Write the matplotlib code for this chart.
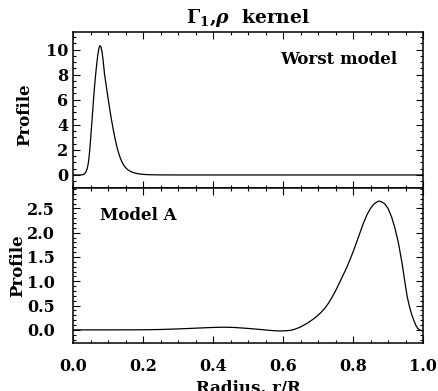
import matplotlib
matplotlib.use("Agg")
import matplotlib.pyplot as plt
from matplotlib.ticker import MultipleLocator

# ---- data ----
top_x = [0.000, 0.020, 0.025, 0.030, 0.034, 0.037, 0.040, 0.042, 0.044, 0.046,
         0.048, 0.050, 0.053, 0.056, 0.059, 0.062, 0.065, 0.068, 0.071, 0.074,
         0.077, 0.080, 0.083, 0.086, 0.090, 0.095, 0.100, 0.105, 0.110, 0.115,
         0.120, 0.125, 0.130, 0.135, 0.140, 0.145, 0.150, 0.155, 0.160, 0.170,
         0.180, 0.190, 0.200, 0.210, 0.225, 0.250, 0.300, 1.000]
top_y = [0.00, 0.00, 0.01, 0.04, 0.12, 0.25, 0.45, 0.68, 1.00, 1.45,
         2.05, 2.75, 3.85, 5.00, 6.15, 7.20, 8.10, 8.90, 9.60, 10.10,
         10.32, 10.20, 9.80, 9.15, 8.06, 7.10, 6.15, 5.25, 4.40, 3.62,
         2.92, 2.30, 1.78, 1.36, 1.03, 0.78, 0.59, 0.45, 0.35, 0.21,
         0.13, 0.08, 0.05, 0.03, 0.015, 0.005, 0.00, 0.00]

bot_x = [0.00, 0.10, 0.20, 0.25, 0.30, 0.35, 0.40, 0.43, 0.46, 0.50,
         0.54, 0.57, 0.59, 0.61, 0.62, 0.63, 0.64, 0.65, 0.66, 0.67,
         0.68, 0.69, 0.70, 0.71, 0.72, 0.73, 0.74, 0.75, 0.76, 0.77,
         0.78, 0.79, 0.80, 0.81, 0.82, 0.83, 0.84, 0.85, 0.86, 0.87,
         0.875, 0.88, 0.89, 0.90, 0.91, 0.92, 0.93, 0.94, 0.95, 0.955,
         0.96, 0.965, 0.97, 0.975, 0.98, 0.985, 0.99, 0.995, 1.00]
bot_y = [0.000, 0.000, 0.002, 0.008, 0.020, 0.035, 0.050, 0.055, 0.050, 0.030,
         0.005, -0.015, -0.022, -0.018, -0.010, 0.005, 0.030, 0.060, 0.100, 0.140,
         0.190, 0.240, 0.300, 0.370, 0.450, 0.550, 0.670, 0.800, 0.950, 1.100,
         1.250, 1.420, 1.600, 1.800, 2.000, 2.200, 2.370, 2.500, 2.590, 2.640,
         2.650, 2.640, 2.600, 2.500, 2.330, 2.090, 1.780, 1.380, 0.900, 0.680,
         0.520, 0.380, 0.270, 0.170, 0.090, 0.030, 0.000, -0.015, -0.020]

x_ticks = [0.0, 0.2, 0.4, 0.6, 0.8, 1.0]
x_ticklabels = ["0.0", "0.2", "0.4", "0.6", "0.8", "1.0"]
top_yticks = [0, 2, 4, 6, 8, 10]
bot_yticks = [0.0, 0.5, 1.0, 1.5, 2.0, 2.5]

plt.rcParams['font.family'] = ['DejaVu Serif']
plt.rcParams['font.weight'] = 'bold'
plt.rcParams['mathtext.fontset'] = 'dejavuserif'

W, H = 438, 391
fig = plt.figure(figsize=(W / 100, H / 100), dpi=100)

left, right = 73 / W, 423 / W
y_top, y_mid, y_bot = 1 - 32 / H, 1 - 187.5 / H, 1 - 343 / H
ax1 = fig.add_axes([left, y_mid, right - left, y_top - y_mid])
ax2 = fig.add_axes([left, y_bot, right - left, y_mid - y_bot])

fs = 12
tfs = 11.5
for ax in (ax1, ax2):
    ax.set_xlim(0, 1)
    ax.xaxis.set_major_locator(MultipleLocator(0.2))
    ax.xaxis.set_minor_locator(MultipleLocator(0.05))
    ax.tick_params(which='both', direction='in', top=True, right=True,
                   labelsize=tfs, width=0.8)
    ax.tick_params(which='major', length=5)
    ax.tick_params(which='minor', length=2.5)
    for s in ax.spines.values():
        s.set_linewidth(1.1)

ax1.plot(top_x, top_y, color='black', lw=0.9)
ax1.set_ylim(-1, 11.4)
ax1.set_yticks(top_yticks)
ax1.yaxis.set_minor_locator(MultipleLocator(0.5))
ax1.set_xticks(x_ticks)
ax1.set_xticklabels([])
ax1.tick_params(axis='y', pad=3.5)
ax1.text(0.926, 0.826, "Worst model", transform=ax1.transAxes,
         ha='right', va='center', fontsize=fs, fontweight='bold')

ax2.plot(bot_x, bot_y, color='black', lw=0.9)
ax2.set_ylim(-0.27, 2.93)
ax2.set_yticks(bot_yticks)
ax2.set_yticklabels([f"{v:.1f}" for v in bot_yticks])
ax2.yaxis.set_minor_locator(MultipleLocator(0.1))
ax2.set_xticks(x_ticks)
ax2.set_xticklabels(x_ticklabels)
ax2.tick_params(axis='x', pad=11)
ax2.tick_params(axis='y', pad=13)
ax2.text(0.077, 0.823, "Model A", transform=ax2.transAxes,
         ha='left', va='center', fontsize=fs, fontweight='bold')

fig.text(25 / W, 1 - 115 / H, "Profile", rotation=90, ha='center', va='center',
         fontsize=fs, fontweight='bold')
fig.text(18 / W, 1 - 266 / H, "Profile", rotation=90, ha='center', va='center',
         fontsize=fs, fontweight='bold')
fig.text(248 / W, 1 - 380 / H, "Radius, r/R", ha='center', va='top',
         fontsize=fs, fontweight='bold')
fig.text(248 / W, 1 - 23 / H, r"$\Gamma_1$,$\rho$  kernel", ha='center',
         va='baseline', fontsize=13.5, fontweight='bold')

fig.savefig("out.png", dpi=100)
